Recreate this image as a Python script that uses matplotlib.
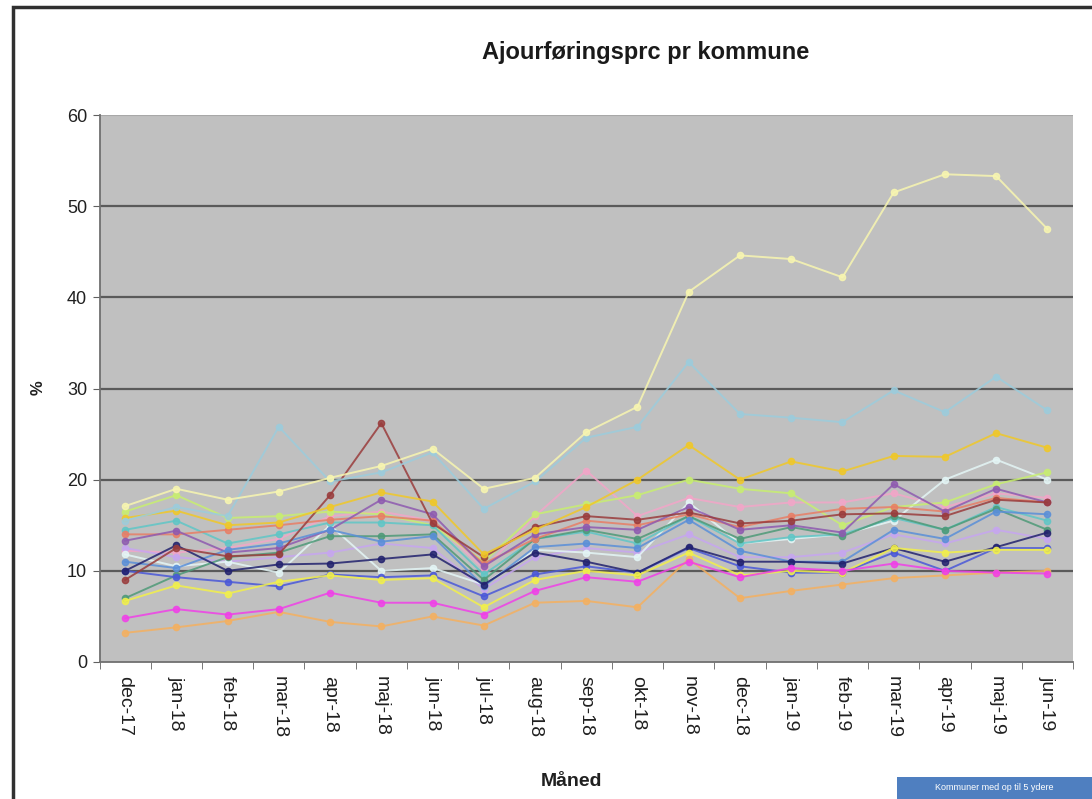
import matplotlib
matplotlib.use("Agg")
import matplotlib.pyplot as plt
from matplotlib.patches import Rectangle
import numpy as np

months = ["dec-17", "jan-18", "feb-18", "mar-18", "apr-18", "maj-18", "jun-18",
          "jul-18", "aug-18", "sep-18", "okt-18", "nov-18", "dec-18", "jan-19",
          "feb-19", "mar-19", "apr-19", "maj-19", "jun-19"]

k01 = [17.1, 19.0, 17.8, 18.7, 20.2, 21.5, 23.4, 19.0, 20.2, 25.2, 28.0, 40.6, 44.6, 44.2, 42.2, 51.5, 53.5, 53.3, 47.5]
k02 = [15.5, 17.0, 16.0, 25.8, 19.8, 20.8, 23.0, 16.8, 19.8, 24.6, 25.8, 32.9, 27.2, 26.8, 26.3, 29.8, 27.4, 31.3, 27.6]
k03 = [15.8, 16.6, 15.0, 15.3, 17.0, 18.6, 17.6, 11.8, 14.5, 17.0, 20.0, 23.8, 20.0, 22.0, 20.9, 22.6, 22.5, 25.1, 23.5]
k04 = [9.0, 12.5, 11.6, 11.8, 18.3, 26.2, 15.2, 11.5, 14.8, 16.0, 15.6, 16.4, 15.2, 15.5, 16.2, 16.3, 16.0, 17.8, 17.5]
k05 = [13.3, 14.4, 12.0, 12.5, 14.5, 17.8, 16.2, 10.5, 14.0, 14.8, 14.5, 17.0, 14.5, 15.0, 14.2, 19.5, 16.5, 19.0, 17.5]
k06 = [14.0, 14.0, 14.5, 15.0, 15.6, 16.0, 15.5, 10.8, 13.5, 15.5, 15.0, 16.2, 14.8, 16.0, 16.8, 17.0, 16.5, 18.0, 17.5]
k07 = [7.0, 9.5, 11.5, 12.0, 13.8, 13.8, 14.0, 9.0, 13.5, 14.5, 13.5, 16.0, 13.5, 14.8, 13.8, 16.0, 14.5, 16.8, 14.5]
k08 = [10.0, 12.8, 10.0, 10.7, 10.8, 11.3, 11.8, 8.5, 12.0, 11.0, 9.8, 12.6, 11.0, 11.0, 10.8, 12.5, 11.0, 12.6, 14.2]
k09 = [10.0, 9.3, 8.8, 8.3, 9.6, 9.3, 9.5, 7.2, 9.6, 10.5, 9.8, 12.5, 10.5, 9.8, 9.8, 12.0, 10.0, 12.5, 12.5]
k10 = [11.0, 10.3, 12.3, 13.0, 14.5, 13.2, 13.8, 8.3, 12.6, 13.0, 12.5, 15.6, 12.2, 11.0, 11.0, 14.5, 13.5, 16.5, 16.2]
k11 = [4.8, 5.8, 5.2, 5.8, 7.6, 6.5, 6.5, 5.2, 7.8, 9.3, 8.8, 11.0, 9.3, 10.3, 10.0, 10.8, 10.0, 9.8, 9.7]
k12 = [3.2, 3.8, 4.5, 5.5, 4.4, 3.9, 5.0, 4.0, 6.5, 6.7, 6.0, 11.3, 7.0, 7.8, 8.5, 9.2, 9.5, 9.8, 10.0]
k13 = [6.7, 8.4, 7.5, 8.8, 9.5, 9.0, 9.2, 6.0, 9.0, 10.0, 9.5, 12.0, 9.5, 10.0, 9.8, 12.5, 12.0, 12.3, 12.3]
k14 = [16.5, 18.3, 15.8, 16.0, 16.5, 16.2, 15.0, 11.0, 16.2, 17.3, 18.3, 20.0, 19.0, 18.5, 15.0, 17.0, 17.5, 19.5, 20.8]
k15 = [11.8, 10.5, 11.0, 9.8, 15.0, 10.0, 10.3, 8.5, 12.3, 12.0, 11.5, 17.5, 13.0, 13.5, 14.0, 15.5, 20.0, 22.2, 20.0]
k16 = [12.2, 12.0, 12.5, 13.5, 16.0, 16.5, 15.5, 10.2, 16.0, 21.0, 16.0, 18.0, 17.0, 17.5, 17.5, 18.5, 17.0, 18.5, 18.0]
k17 = [14.5, 15.5, 13.0, 14.0, 15.3, 15.3, 15.0, 9.6, 13.5, 14.3, 13.0, 16.0, 13.0, 13.7, 14.0, 15.8, 14.5, 17.0, 15.5]
k18 = [12.5, 11.5, 11.0, 11.5, 12.0, 13.0, 12.5, 8.0, 11.5, 12.5, 12.0, 14.0, 11.5, 11.5, 12.0, 14.0, 13.0, 14.5, 13.5]

series = [k16, k18, k15, k14, k17, k07, k06, k05, k10, k09, k08, k13, k12, k11, k04, k03, k02, k01]
colors = ["#F2A6C8", "#C6A6F0", "#E4F6F6", "#C8EE70", "#5FC6C6", "#4E9A78", "#E87E66", "#8E5AB0",
          "#5A8FD8", "#4A58D8", "#22226E", "#F2F04A", "#F4B060", "#F040E8", "#9A3C3C", "#F0C828",
          "#9CCCDC", "#F8F6B0"]

fig = plt.figure(figsize=(10.92, 7.99), dpi=100)
fig.patch.set_facecolor("white")

# chart border
fig.patches.append(Rectangle((13/1092, -0.01), 1.02, 1 - 7/799 + 0.01, transform=fig.transFigure,
                             fill=False, edgecolor="#303030", linewidth=2.5))

ax = fig.add_axes([99.5/1092, 1 - 662/799, (1073 - 99.5)/1092, (662 - 115)/799])
ax.set_facecolor("#C0C0C0")

x = np.arange(len(months))
for s, c in zip(series, colors):
    ax.plot(x, s, color=c, lw=1.4, marker="o", ms=4.5, mec=c, mfc=c, alpha=0.85, zorder=3)

ax.set_xlim(-0.5, len(months) - 0.5)
ax.set_ylim(0, 60)
ax.set_yticks(np.arange(0, 61, 10))
for yv in range(10, 60, 10):
    ax.axhline(yv, color="#5A5A5A", lw=1.6, zorder=2)
ax.axhline(60, color="#A8A8A8", lw=0.8, zorder=2)

ax.set_xticks(x)
ax.set_xticklabels(months, rotation=270, fontsize=14, color="#202020", family="Liberation Sans")
ax.set_xticks(np.arange(-0.5, len(months), 1), minor=True)
ax.tick_params(axis="x", which="major", length=0, pad=10)
ax.tick_params(axis="x", which="minor", length=5, color="#606060", direction="out")
ax.tick_params(axis="y", length=5, color="#606060", labelsize=13, labelcolor="#202020", pad=4)
for lab in ax.get_yticklabels():
    lab.set_family("Liberation Sans")

for side in ["top", "right"]:
    ax.spines[side].set_visible(False)
ax.spines["left"].set_color("#707070")
ax.spines["left"].set_linewidth(1.3)
ax.spines["bottom"].set_color("#707070")
ax.spines["bottom"].set_linewidth(1.3)

fig.text(646/1092, 1 - 52/799, "Ajourføringsprc pr kommune", ha="center", va="center",
         fontsize=17, fontweight="bold", family="Liberation Sans", color="#1A1A1A")
fig.text(38/1092, 1 - 388/799, "%", ha="center", va="center", rotation=90,
         fontsize=12, fontweight="bold", family="Liberation Sans", color="#202020")
fig.text(572/1092, 1 - 781/799, "Måned", ha="center", va="center",
         fontsize=14, fontweight="bold", family="Liberation Sans", color="#202020")

# small blue label box bottom right
fig.patches.append(Rectangle((897/1092, 0), 200/1092, 22/799, transform=fig.transFigure,
                             facecolor="#4F7FC0", edgecolor="none", zorder=5))
fig.text(994/1092, 11/799, "Kommuner med op til 5 ydere", ha="center", va="center",
         fontsize=6.5, color="white", family="Liberation Sans", zorder=6)

fig.savefig("out.png", dpi=100)
